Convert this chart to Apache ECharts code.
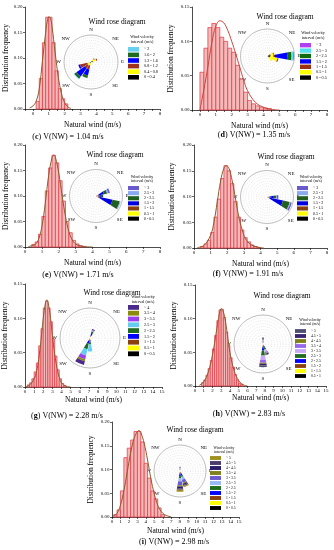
<!DOCTYPE html>
<html><head><meta charset="utf-8">
<script src="https://cdn.jsdelivr.net/npm/echarts@6/dist/echarts.min.js"></script>
<style>html,body{margin:0;padding:0;background:#fff}#c{width:334px;height:550px}</style>
</head><body><div id="c"></div>
<script>
const FONT = "'Liberation Serif','DejaVu Serif',serif";
const dirs16 = ['N','NNE','NE','ENE','E','ESE','SE','SSE','S','SSW','SW','WSW','W','WNW','NW','NNW'];
const compassLabels = ['N','NE','E','SE','S','SW','W','NW'];

// ---------- (c) ----------
const binsC = [0.2,0.4,0.6,0.8,1.0,1.2,1.4,1.6,1.8,2.0];
const freqC = [0.015,0.06,0.13,0.18,0.18,0.13,0.075,0.04,0.02,0.01];
const fitXC = [-0.2,0,0.2,0.4,0.6,0.8,0.9,1.0,1.1,1.2,1.4,1.6,1.8,2.0,2.2,2.4];
const fitYC = [0.002,0.006,0.015,0.04,0.095,0.15,0.172,0.181,0.178,0.162,0.11,0.062,0.03,0.012,0.004,0.001];
const classesC = ['0 - 0.4','0.4 - 0.8','0.8 - 1.2','1.2 - 1.6','1.6 - 2','~ 2'];
const petalDirsC = ['NE','ENE','E','SSW','SW','WSW'];
const roseC = [
  [0.6,0.8,0.5,0.5,0.6,0.5],
  [0.8,1.2,0.6,0.8,0.9,0.9],
  [0.3,0.4,0,1.6,1.3,2.8],
  [0,0,0,2.3,3.8,0.6],
  [0,0,0,0.9,1.0,0],
  [0,0,0,0,0.2,0]
];
const colorsC = ['#000000','#ffff00','#a0301e','#0000ff','#1f6b1f','#66d0ee'];

// ---------- (d) ----------
const binsD = [0,0.25,0.5,0.75,1.0,1.25,1.5,1.75,2.0,2.25,2.5,2.75,3.0,3.25,3.5,3.75,4.0,4.25];
const freqD = [0.055,0.09,0.12,0.126,0.12,0.106,0.1,0.09,0.084,0.065,0.045,0.026,0.014,0.009,0.006,0.004,0.003,0.002];
const fitXD = [0,0.25,0.5,0.75,1.0,1.25,1.5,1.75,2.0,2.25,2.5,2.75,3.0,3.5,4.0,4.5,5.0];
const fitYD = [0,0.03,0.063,0.098,0.122,0.13,0.127,0.116,0.1,0.082,0.063,0.044,0.028,0.011,0.004,0.001,0];
const classesD = ['0 - 0.5','0.5 - 1','1 - 1.5','1.5 - 2','2 - 2.5','2.5 - 3','~ 3'];
const petalDirsD = ['ENE','E','ESE','SE'];
const roseD = [
  [1.2,1.2,1.0,0.6],
  [1.0,1.0,2.8,1.8],
  [0.3,0.6,0.4,0],
  [0,4.5,0,0],
  [0,1.6,0,0],
  [0,0.6,0,0],
  [0,0.3,0,0]
];
const colorsD = ['#000000','#ffff00','#9b3010','#0000ff','#0f6b0f','#55e0f0','#b040f0'];

// ---------- (e) ----------
const binsE = [0.4,0.6,0.8,1.0,1.2,1.4,1.6,1.8,2.0,2.2,2.4,2.6,2.8,3.0,3.2,3.4];
const freqE = [0.005,0.01,0.025,0.06,0.11,0.155,0.18,0.165,0.13,0.09,0.05,0.028,0.013,0.006,0.003,0.001];
const fitXE = [0.2,0.6,0.8,1.0,1.2,1.4,1.6,1.7,1.8,2.0,2.2,2.4,2.6,2.8,3.0,3.4,4.0];
const fitYE = [0.001,0.005,0.015,0.04,0.085,0.14,0.175,0.18,0.176,0.145,0.1,0.06,0.03,0.014,0.006,0.001,0];
const classesE = ['0 - 0.5','0.5 - 1','1 - 1.5','1.5 - 2','2 - 2.5','2.5 - 3','~ 3'];
const petalDirsE = ['ENE','E','ESE'];
const roseE = [[0.3,0.3,0.4],[0.3,0.3,0.4],[0.5,0.4,0.8],[2.0,1.2,4.8],[1.2,0.5,2.8],[0.5,0,0.2],[0.6,0,0.1]];
const colorsE = ['#000000','#ffff00','#8b4010','#0000e0','#1f5f1f','#88aaf0','#6a5acd'];

// ---------- (f) ----------
const binsF = [0.4,0.6,0.8,1.0,1.2,1.4,1.6,1.8,2.0,2.2,2.4,2.6,2.8,3.0,3.2,3.4,3.6,3.8];
const freqF = [0.003,0.008,0.015,0.03,0.06,0.095,0.135,0.16,0.15,0.125,0.09,0.06,0.035,0.02,0.012,0.006,0.003,0.001];
const fitXF = [0.2,0.6,1.0,1.2,1.4,1.6,1.8,1.95,2.1,2.3,2.5,2.7,2.9,3.1,3.4,3.8,4.2];
const fitYF = [0.001,0.005,0.025,0.05,0.09,0.13,0.155,0.16,0.155,0.13,0.095,0.06,0.035,0.018,0.007,0.002,0];
const classesF = ['0 - 0.5','0.5 - 1','1 - 1.5','1.5 - 2','2 - 2.5','2.5 - 3','~ 3'];
const petalDirsF = ['E','ESE'];
const roseF = [[0.3,0.3],[0.3,0.3],[0.5,0.6],[1.5,5.0],[0.8,2.6],[0.3,0.3],[0.6,0.5]];
const colorsF = ['#000000','#ffff00','#8b4010','#0000e0','#1f5f1f','#88aaf0','#6a5acd'];

// ---------- (g) ----------
const binsG = [0.25,0.5,0.75,1.0,1.25,1.5,1.75,2.0,2.25,2.5,2.75,3.0,3.25,3.5,3.75,4.0,4.25];
const freqG = [0.003,0.006,0.012,0.022,0.035,0.06,0.085,0.115,0.125,0.115,0.095,0.07,0.045,0.025,0.012,0.005,0.002];
const fitXG = [0,0.5,1.0,1.25,1.5,1.75,2.0,2.25,2.4,2.6,2.8,3.0,3.25,3.5,3.75,4.0,4.5,5.0];
const fitYG = [0,0.003,0.012,0.022,0.04,0.068,0.1,0.123,0.127,0.118,0.1,0.075,0.048,0.028,0.014,0.006,0.001,0];
const classesG = ['0 - 0.5','0.5 - 1','1 - 1.5','1.5 - 2','2 - 2.5','2.5 - 3','3 - 3.5','3.5 - 4','~ 4'];
const petalDirsG = ['NNE','S','SSW'];
const roseG = [[0.2,0.2,0.3],[0.2,0.2,0.3],[0.3,0.3,0.5],[1.0,0.5,0.9],[0.5,0.8,1.8],[0.3,2.5,2.2],[0.2,0,1.3],[0.1,0,0.6],[0.3,0,1.3]];
const colorsG = ['#000000','#ffff00','#8b4010','#0000ff','#1f6b1f','#66ccf0','#9b40f0','#8b8b10','#4b2a8b'];

// ---------- (h) ----------
const binsH = [0.75,1.0,1.25,1.5,1.75,2.0,2.25,2.5,2.75,3.0,3.25,3.5,3.75,4.0,4.25,4.5,4.75,5.0,5.25];
const freqH = [0.005,0.009,0.016,0.026,0.038,0.055,0.075,0.097,0.113,0.114,0.102,0.08,0.06,0.042,0.028,0.017,0.009,0.004,0.002];
const fitXH = [0.5,1.0,1.5,2.0,2.5,2.8,3.0,3.2,3.5,4.0,4.5,5.0,5.5,6.0];
const fitYH = [0.001,0.006,0.02,0.046,0.085,0.108,0.115,0.112,0.095,0.05,0.022,0.008,0.002,0];
const classesH = ['0.5 - 1','1 - 1.5','1.5 - 2','2 - 2.5','2.5 - 3','3 - 3.5','3.5 - 4','4 - 4.5','4.5 - 5','~ 5'];
const petalDirsH = ['N','SSE','S'];
const roseH = [[0.1,0.1,0.2],[0.1,0.2,0.3],[0.2,0.3,0.5],[0.3,0.6,1.2],[0.3,0.8,1.8],[0.3,0.8,1.5],[0.2,0.5,1.0],[0.1,0.2,0.3],[0.3,0.3,0.6],[0.3,0.2,0.6]];
const colorsH = ['#000000','#ffff00','#8b4010','#0000ff','#1f6b1f','#c8a8f8','#9966ee','#808010','#3a2370','#4f4f6f'];

// ---------- (i) ----------
const binsI = [0.2,0.6,1.0,1.4,1.8,2.2,2.6,3.0,3.4,3.8,4.2,4.6,5.0,5.4,5.8];
const freqI = [0.005,0.015,0.055,0.125,0.145,0.162,0.18,0.18,0.158,0.113,0.082,0.055,0.038,0.019,0.005];
const fitXI = [0.2,0.6,1.0,1.4,1.8,2.2,2.6,3.0,3.2,3.4,3.8,4.2,4.6,5.0,5.4,5.8,6.2,6.6,7.0];
const fitYI = [0.002,0.008,0.025,0.055,0.095,0.135,0.165,0.18,0.182,0.178,0.155,0.12,0.08,0.048,0.025,0.012,0.005,0.002,0];
const classesI = ['0 - 0.5','0.5 - 1','1 - 1.5','1.5 - 2','2 - 2.5','2.5 - 3','3 - 3.5','3.5 - 4','4 - 4.5','4.5 - 5','~ 5'];
const petalDirsI = ['N','SSE','S'];
const roseI = [[0.1,0.2,0.2],[0.1,0.3,0.3],[0.1,0.5,0.5],[0.3,0.8,1.0],[0.2,0.6,0.8],[0.2,1.0,1.2],[0.3,1.2,1.5],[0.1,0.4,0.5],[0.2,0.5,0.6],[0,0.4,0.6],[0,0.5,0.8]];
const colorsI = ['#000000','#ffff00','#8b4010','#0000ff','#1f6b1f','#99b8f8','#6a5acd','#808020','#2a1a6a','#4b3b6b','#a09020'];

const captionsV = ['1.04','1.35','1.71','1.91','2.28','2.83','2.98'];

// layout (positions / sizes only)
const panels = [
  {id:'c', grid:[25,7,135,102], x:[-0.5,8,0.5], ymax:0.2, yGap:15, xGap:12, polar:[91,62,27], rt:[117,22], leg:[128,47,4.6,4.2], lt:[142,39], cap:[68,137], curve:'#8b5a2b',
   bins:binsC, bw:0.2, freq:freqC, fx:fitXC, fy:fitYC, classes:classesC, pd:petalDirsC, rose:roseC, colors:colorsC},
  {id:'d', grid:[192,7,135,103], x:[-0.5,8,0.5], ymax:0.15, yGap:17, xGap:12, polar:[267.5,56,27], rt:[285,17], leg:[300,43,4.4,4.2], lt:[313,35], cap:[254,135], curve:'#c8463c',
   bins:binsD, bw:0.25, freq:freqD, fx:fitXD, fy:fitYD, classes:classesD, pd:petalDirsD, rose:roseD, colors:colorsD},
  {id:'e', grid:[25,145,135,102], x:[0,8,1], ymax:0.2, yGap:15, xGap:12, polar:[96,196,26.5], rt:[115,155], leg:[128,186,4.1,4.0], lt:[142,179], cap:[78,275], curve:'#8b5a2b',
   bins:binsE, bw:0.2, freq:freqE, fx:fitXE, fy:fitYE, classes:classesE, pd:petalDirsE, rose:roseE, colors:colorsE},
  {id:'f', grid:[194,145,133,103], x:[0,8,1], ymax:0.2, yGap:18, xGap:12, polar:[267,197,26.5], rt:[286,157], leg:[297,186,4.1,4.0], lt:[311,179], cap:[248,274], curve:'#8b5a2b',
   bins:binsF, bw:0.2, freq:freqF, fx:fitXF, fy:fitYF, classes:classesF, pd:petalDirsF, rose:roseF, colors:colorsF},
  {id:'g', grid:[25,284,137,103], x:[0,15,1], ymax:0.15, yGap:16, xGap:9, polar:[90,338,30], rt:[112,293], leg:[128,305,4.8,4.2], lt:[143,299], cap:[67,416], curve:'#8b5a2b',
   bins:binsG, bw:0.25, freq:freqG, fx:fitXG, fy:fitYG, classes:classesG, pd:petalDirsG, rose:roseG, colors:colorsG},
  {id:'h', grid:[195,285,131,101], x:[0,15,1], ymax:0.15, yGap:17, xGap:8, polar:[263,344,29], rt:[282,296], leg:[295,329,3.8,3.8], lt:[310,322], cap:[249,414], curve:'#8b5a2b',
   bins:binsH, bw:0.25, freq:freqH, fx:fitXH, fy:fitYH, classes:classesH, pd:petalDirsH, rose:roseH, colors:colorsH},
  {id:'i', grid:[112,422,127,95], x:[0,15,1], ymax:0.2, yGap:17, xGap:10, polar:[180,471,26], rt:[195,430], leg:[210,456,3.9,3.7], lt:[224,450], cap:[174,542], curve:'#8b5a2b',
   bins:binsI, bw:0.4, freq:freqI, fx:fitXI, fy:fitYI, classes:classesI, pd:petalDirsI, rose:roseI, colors:colorsI}
];

const option = {animation:false, backgroundColor:'#ffffff', grid:[], xAxis:[], yAxis:[], polar:[], angleAxis:[], radiusAxis:[], legend:[], series:[], graphic:[]};
const axisBase = {
  axisLine:{show:true, onZero:false, lineStyle:{color:'#000', width:0.7}},
  axisTick:{show:true, length:2, lineStyle:{color:'#000', width:0.6}},
  splitLine:{show:false}
};

panels.forEach((p,i)=>{
  option.grid.push({left:p.grid[0], top:p.grid[1], width:p.grid[2], height:p.grid[3], containLabel:false, outerBoundsMode:'none'});
  option.xAxis.push(Object.assign({}, axisBase, {
    type:'value', gridIndex:i, min:p.x[0], max:p.x[1], interval:p.x[2],
    axisLabel:{fontSize:5, margin:2.5, color:'#000', fontFamily:FONT, formatter:v=> (Math.abs(v%1)<1e-9 ? String(Math.round(v)) : '')},
    name:'Natural wind (m/s)', nameLocation:'middle', nameGap:p.xGap,
    nameTextStyle:{fontSize:7.5, fontFamily:FONT, color:'#000'}
  }));
  option.yAxis.push(Object.assign({}, axisBase, {
    type:'value', gridIndex:i, min:0, max:p.ymax, interval:0.05,
    axisLabel:{fontSize:5, margin:2.5, color:'#000', fontFamily:FONT, formatter:v=>v.toFixed(2)},
    name:'Distribution frequency', nameLocation:'middle', nameGap:p.yGap,
    nameTextStyle:{fontSize:7.5, fontFamily:FONT, color:'#000'}
  }));
  // histogram
  option.series.push({
    type:'custom', xAxisIndex:i, yAxisIndex:i, z:2,
    data:p.bins.map((b,k)=>[b, b+p.bw, p.freq[k]]),
    encode:{x:[0,1], y:2},
    renderItem:(params, api)=>{
      const a = api.coord([api.value(0), api.value(2)]);
      const b = api.coord([api.value(1), 0]);
      return {type:'rect', shape:{x:a[0], y:a[1], width:b[0]-a[0], height:b[1]-a[1]},
        style:{fill:'#f6b9b9', stroke:'#e0343f', lineWidth:0.7}};
    }
  });
  // fitted curve
  option.series.push({
    type:'line', xAxisIndex:i, yAxisIndex:i, z:3, smooth:0.4, showSymbol:false, silent:true,
    data:p.fx.map((x,k)=>[x, p.fy[k]]),
    lineStyle:{color:p.curve, width:1}
  });
  // wind rose
  option.polar.push({center:[p.polar[0], p.polar[1]], radius:p.polar[2]});
  option.angleAxis.push({
    polarIndex:i, type:'category', data:dirs16, startAngle:101.25, clockwise:true, boundaryGap:true,
    axisLine:{show:true, lineStyle:{color:'#9a9a9a', width:0.6}}, axisTick:{show:false}, splitLine:{show:false},
    axisLabel:{interval:0, margin:3, fontSize:5, fontFamily:FONT, color:'#000', formatter:v=> compassLabels.includes(v) ? v : ''}
  });
  option.radiusAxis.push({
    polarIndex:i, min:0, max:10, interval:1,
    axisLine:{show:false}, axisTick:{show:false}, axisLabel:{show:false},
    splitLine:{show:true, lineStyle:{color:'#cccccc', width:0.5, type:[1,1.2]}}
  });
  const names = [];
  p.classes.forEach((cl,k)=>{
    const nm = p.id + '|' + cl;
    names.push(nm);
    option.series.push({
      type:'bar', coordinateSystem:'polar', polarIndex:i, name:nm, stack:'rose'+p.id, z:4, silent:true,
      barCategoryGap:'12%',
      data:dirs16.map(d=>{const j=p.pd.indexOf(d); return j<0 ? 0 : p.rose[k][j];}),
      itemStyle:{color:p.colors[k]}
    });
  });
  option.legend.push({
    orient:'vertical', left:p.leg[0], top:p.leg[1], itemWidth:11, itemHeight:p.leg[2], itemGap:1, padding:0,
    icon:'rect', selectedMode:false, data:names.slice().reverse(),
    formatter:n=>n.split('|')[1],
    textStyle:{fontSize:p.leg[3], fontFamily:FONT, color:'#000'}
  });
  option.graphic.push({type:'text', x:p.rt[0], y:p.rt[1], z:10,
    style:{text:'Wind rose diagram', fontSize:7.5, fontFamily:FONT, fill:'#000', align:'center', verticalAlign:'middle'}});
  option.graphic.push({type:'text', x:p.lt[0], y:p.lt[1], z:10,
    style:{text:'Wind velocity\ninterval (m/s)', fontSize:p.leg[3], lineHeight:p.leg[3]+0.6, fontFamily:FONT, fill:'#000', align:'center', verticalAlign:'middle'}});
  option.graphic.push({type:'text', x:p.cap[0], y:p.cap[1], z:10,
    style:{text:'({b|'+p.id+'}) V(NW) = '+captionsV[i]+' m/s', fontSize:8, fontFamily:FONT, fill:'#000', align:'center', verticalAlign:'middle',
      rich:{b:{fontWeight:'bold', fontSize:8, fontFamily:FONT, fill:'#000'}}}});
});

const chart = echarts.init(document.getElementById('c'), null, {renderer:'canvas'});
chart.setOption(option);
</script></body></html>
